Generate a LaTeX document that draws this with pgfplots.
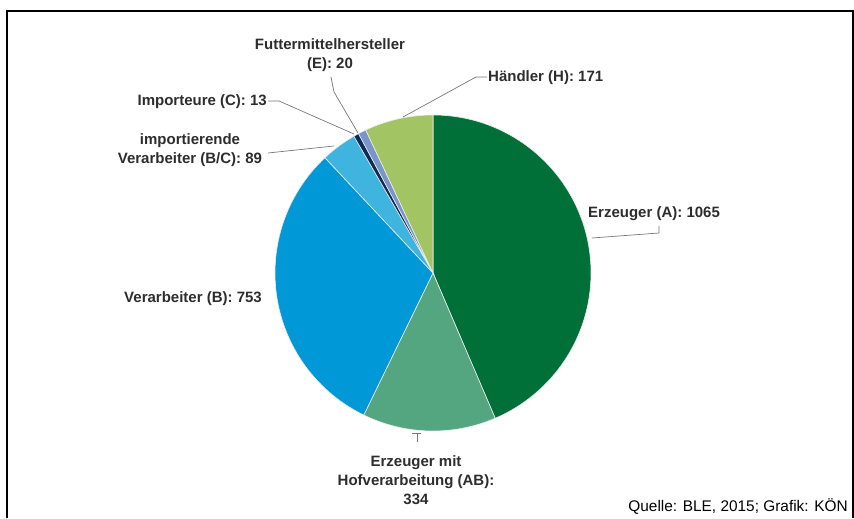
\documentclass[border=0pt]{standalone}
\usepackage{pgfplots}
\pgfplotsset{compat=1.18}
\usepackage{pgfplotstable}
\usepackage{fontspec}
\setmainfont{Liberation Sans}
\definecolor{c0}{RGB}{0,112,56}
\definecolor{c1}{RGB}{84,166,128}
\definecolor{c2}{RGB}{0,152,214}
\definecolor{c3}{RGB}{62,180,222}
\definecolor{c4}{RGB}{14,42,88}
\definecolor{c5}{RGB}{122,150,200}
\definecolor{c6}{RGB}{162,196,98}
\definecolor{labtext}{RGB}{45,45,45}
\definecolor{leader}{RGB}{120,120,120}
\tikzset{lab/.style={font=\fontsize{15}{19}\selectfont\bfseries, text=labtext, inner sep=0pt, align=center}}
\pgfplotstableread[col sep=comma]{
name,value
A,1065
AB,334
B,753
BC,89
C,13
E,20
H,171
}\piedata
\begin{document}
\begin{tikzpicture}
\begin{axis}[
  x=1pt, y=1pt, y dir=reverse,
  xmin=0, xmax=854, ymin=0, ymax=518,
  hide axis, clip=false,
]
\path (axis cs:0,0) rectangle (axis cs:854,518);
\pgfplotsextra{%
  \pgfplotstablegetrowsof{\piedata}%
  \pgfmathtruncatemacro\lastrow{\pgfplotsretval-1}%
  \def\total{0}%
  \pgfplotsforeachungrouped \i in {0,...,\lastrow}{%
    \pgfplotstablegetelem{\i}{value}\of\piedata
    \pgfmathsetmacro\total{\total+\pgfplotsretval}%
  }%
  \def\cum{0}%
  \pgfplotsforeachungrouped \i in {0,...,\lastrow}{%
    \pgfplotstablegetelem{\i}{value}\of\piedata
    \let\v\pgfplotsretval
    \pgfmathsetmacro\sa{90-\cum/\total*360}%
    \pgfmathsetmacro\ea{90-(\cum+\v)/\total*360}%
    \fill[c\i, draw=white!85!gray, line width=0.6pt]
      (axis cs:433,273) -- ++(\sa:158pt) arc[start angle=\sa, end angle=\ea, radius=158pt] -- cycle;
    \pgfmathsetmacro\cum{\cum+\v}%
  }%
}
% frame
\draw[black, line width=1.1pt] (axis cs:7,518) -- (axis cs:7,11) -- (axis cs:853,11) -- (axis cs:853,518);
% leader lines
\draw[leader, line width=0.7pt] (axis cs:331,77) -- (axis cs:334,92) -- (axis cs:358,133);
\draw[leader, line width=0.7pt] (axis cs:268,101) -- (axis cs:279,101) -- (axis cs:354,134);
\draw[leader, line width=0.7pt] (axis cs:268,153) -- (axis cs:334,146);
\draw[leader, line width=0.7pt] (axis cs:487,77) -- (axis cs:476,77) -- (axis cs:403,117);
\draw[leader, line width=0.7pt] (axis cs:659,226) -- (axis cs:659,233) -- (axis cs:592,238);
\draw[leader, line width=0.7pt] (axis cs:412,433) -- (axis cs:421,433) (axis cs:417,433) -- (axis cs:417,442);
% labels
\node[lab] at (axis cs:330,55) {Futtermittelhersteller\\(E): 20};
\node[lab, anchor=east] at (axis cs:267,102) {Importeure (C): 13};
\node[lab] at (axis cs:190,150) {importierende\\Verarbeiter (B/C): 89};
\node[lab, anchor=west] at (axis cs:488,78) {Händler (H): 171};
\node[lab, anchor=west] at (axis cs:588,214) {Erzeuger (A): 1065};
\node[lab, anchor=east] at (axis cs:262,299) {Verarbeiter (B): 753};
\node[lab] at (axis cs:416,480) {Erzeuger mit\\Hofverarbeitung (AB):\\334};
\node[font=\fontsize{15.4}{18}\selectfont, text=black, inner sep=0pt, anchor=east] at (axis cs:848,507) {Quelle: BLE, 2015; Grafik: KÖN};
\end{axis}
\end{tikzpicture}
\end{document}
